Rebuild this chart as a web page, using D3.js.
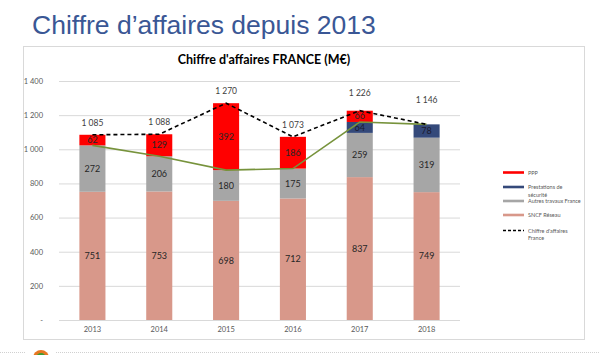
<!DOCTYPE html>
<html><head><meta charset="utf-8">
<script src="https://cdn.jsdelivr.net/npm/d3@7"></script>
<style>body{margin:0;background:#fff}svg{display:block}</style>
</head><body>
<svg id="c" width="600" height="355"></svg>
<script>
const years = ["2013","2014","2015","2016","2017","2018"];
const sncfReseau = [751,753,698,712,837,749];
const autresTravaux = [272,206,180,175,259,319];
const prestationsSecurite = [0,0,0,0,64,78];
const ppp = [62,129,392,186,66,0];
const totalFrance = [1085,1088,1270,1073,1226,1146];
const horsPPP = [1023,959,878,887,1160,1146];
const yTicks = [0,200,400,600,800,1000,1200,1400];
const yTickLabels = ["-","200","400","600","800","1 000","1 200","1 400"];
const totalLabels = ["1 085","1 088","1 270","1 073","1 226","1 146"];

const seriesDefs = [
  {name:"SNCF Réseau", values:sncfReseau, color:"#d8988a"},
  {name:"Autres travaux France", values:autresTravaux, color:"#a6a6a6"},
  {name:"Prestations de sécurité", values:prestationsSecurite, color:"#34497a"},
  {name:"PPP", values:ppp, color:"#ff0000"}
];

const svg = d3.select("#c");
const font = "Lato, 'Open Sans', sans-serif";

// slide title
svg.append("text").attr("x",32).attr("y",34)
  .attr("font-family","'Liberation Sans', Arial, sans-serif").attr("font-size",26.5)
  .attr("fill","#3a5795").text("Chiffre d’affaires depuis 2013");

// frame
svg.append("rect").attr("x",23.5).attr("y",46.5).attr("width",561).attr("height",293)
  .attr("fill","#fff").attr("stroke","#d9d9d9");

svg.append("text").attr("x",264).attr("y",64).attr("text-anchor","middle")
  .attr("font-family",font).attr("font-weight","bold").attr("font-size",12.5)
  .attr("fill","#000").text("Chiffre d'affaires FRANCE (M€)");

const x = d3.scaleBand().domain(years).range([59,460]).paddingInner(0.61).paddingOuter(0.305);
const y = d3.scaleLinear().domain([0,1400]).range([320,81]);

// grid
const yAxis = d3.axisLeft(y).tickValues(yTicks).tickSize(-(460-59)).tickFormat((d,i)=>yTickLabels[i]);
const gy = svg.append("g").attr("transform","translate(59,0)").call(yAxis);
gy.select(".domain").remove();
gy.selectAll(".tick line").attr("stroke","#d9d9d9");
gy.selectAll(".tick text").attr("x",-16).attr("font-family",font).attr("font-size",7.5).attr("fill","#595959");

// stacked bars
const stackData = years.map((yr,i)=>{const o={year:yr}; seriesDefs.forEach(s=>o[s.name]=s.values[i]); return o;});
const stack = d3.stack().keys(seriesDefs.map(s=>s.name))(stackData);
stack.forEach((layer,li)=>{
  const g = svg.append("g");
  g.selectAll("rect").data(layer).join("rect")
    .attr("x",d=>x(d.data.year)).attr("width",x.bandwidth())
    .attr("y",d=>y(d[1])).attr("height",d=>y(d[0])-y(d[1]))
    .attr("fill",seriesDefs[li].color);
  g.selectAll("text").data(layer.filter(d=>d[1]-d[0]>0)).join("text")
    .attr("x",d=>x(d.data.year)+x.bandwidth()/2).attr("y",d=>(y(d[0])+y(d[1]))/2)
    .attr("dy","0.35em").attr("text-anchor","middle")
    .attr("font-family",font).attr("font-size",9).attr("fill",li===2?"#1a1a2e":"#262626")
    .text(d=>d[1]-d[0]);
});

// x axis labels
const gx = svg.append("g").attr("transform","translate(0,320)")
  .call(d3.axisBottom(x).tickSize(0).tickPadding(7));
gx.select(".domain").remove();
gx.selectAll("text").attr("font-family",font).attr("font-size",7.5).attr("fill","#595959");

// green line (hors PPP)
const cx = d=>x(d)+x.bandwidth()/2;
svg.append("path").datum(years.map((yr,i)=>[cx(yr),y(horsPPP[i])]))
  .attr("d",d3.line()).attr("fill","none").attr("stroke","#77933c").attr("stroke-width",1.6);
// dashed total line
svg.append("path").datum(years.map((yr,i)=>[cx(yr),y(totalFrance[i])]))
  .attr("d",d3.line()).attr("fill","none").attr("stroke","#000").attr("stroke-width",1.6)
  .attr("stroke-dasharray","4,3");
svg.append("g").selectAll("text").data(years).join("text")
  .attr("x",d=>cx(d)).attr("y",(d,i)=>y(totalFrance[i])-9 - (i>=4? (i-3)*6:0))
  .attr("text-anchor","middle").attr("font-family",font).attr("font-size",8.5).attr("fill","#404040")
  .text((d,i)=>totalLabels[i]);

// legend
const legendItems = [
  {lines:["PPP"], color:"#ff0000", y:172.5},
  {lines:["Prestations de","sécurité"], color:"#34497a", y:187},
  {lines:["Autres travaux France"], color:"#a6a6a6", y:201},
  {lines:["SNCF Réseau"], color:"#d8988a", y:215},
  {lines:["Chiffre d'affaires","France"], color:"#000", y:230.5, dash:true}
];
const lg = svg.append("g");
legendItems.forEach(it=>{
  lg.append("line").attr("x1",503).attr("x2",524).attr("y1",it.y).attr("y2",it.y)
    .attr("stroke",it.color).attr("stroke-width",it.dash?1.3:2.6)
    .attr("stroke-dasharray",it.dash?"3,2":null);
  it.lines.forEach((t,j)=>{
    lg.append("text").attr("x",528).attr("y",it.y+2+j*7.5)
      .attr("font-family",font).attr("font-size",5.5).attr("fill","#595959").text(t);
  });
});

// slide footer decorations
svg.append("line").attr("x1",0).attr("x2",600).attr("y1",352.5).attr("y2",352.5)
  .attr("stroke","#d0d0d0").attr("stroke-dasharray","1,1");
svg.append("rect").attr("x",25).attr("y",347).attr("width",30).attr("height",8).attr("fill","#fff");
svg.append("circle").attr("cx",41).attr("cy",358).attr("r",8).attr("fill","#e87722");
svg.append("circle").attr("cx",41).attr("cy",358).attr("r",5).attr("fill","#3f9c35");
</script>
</body></html>
